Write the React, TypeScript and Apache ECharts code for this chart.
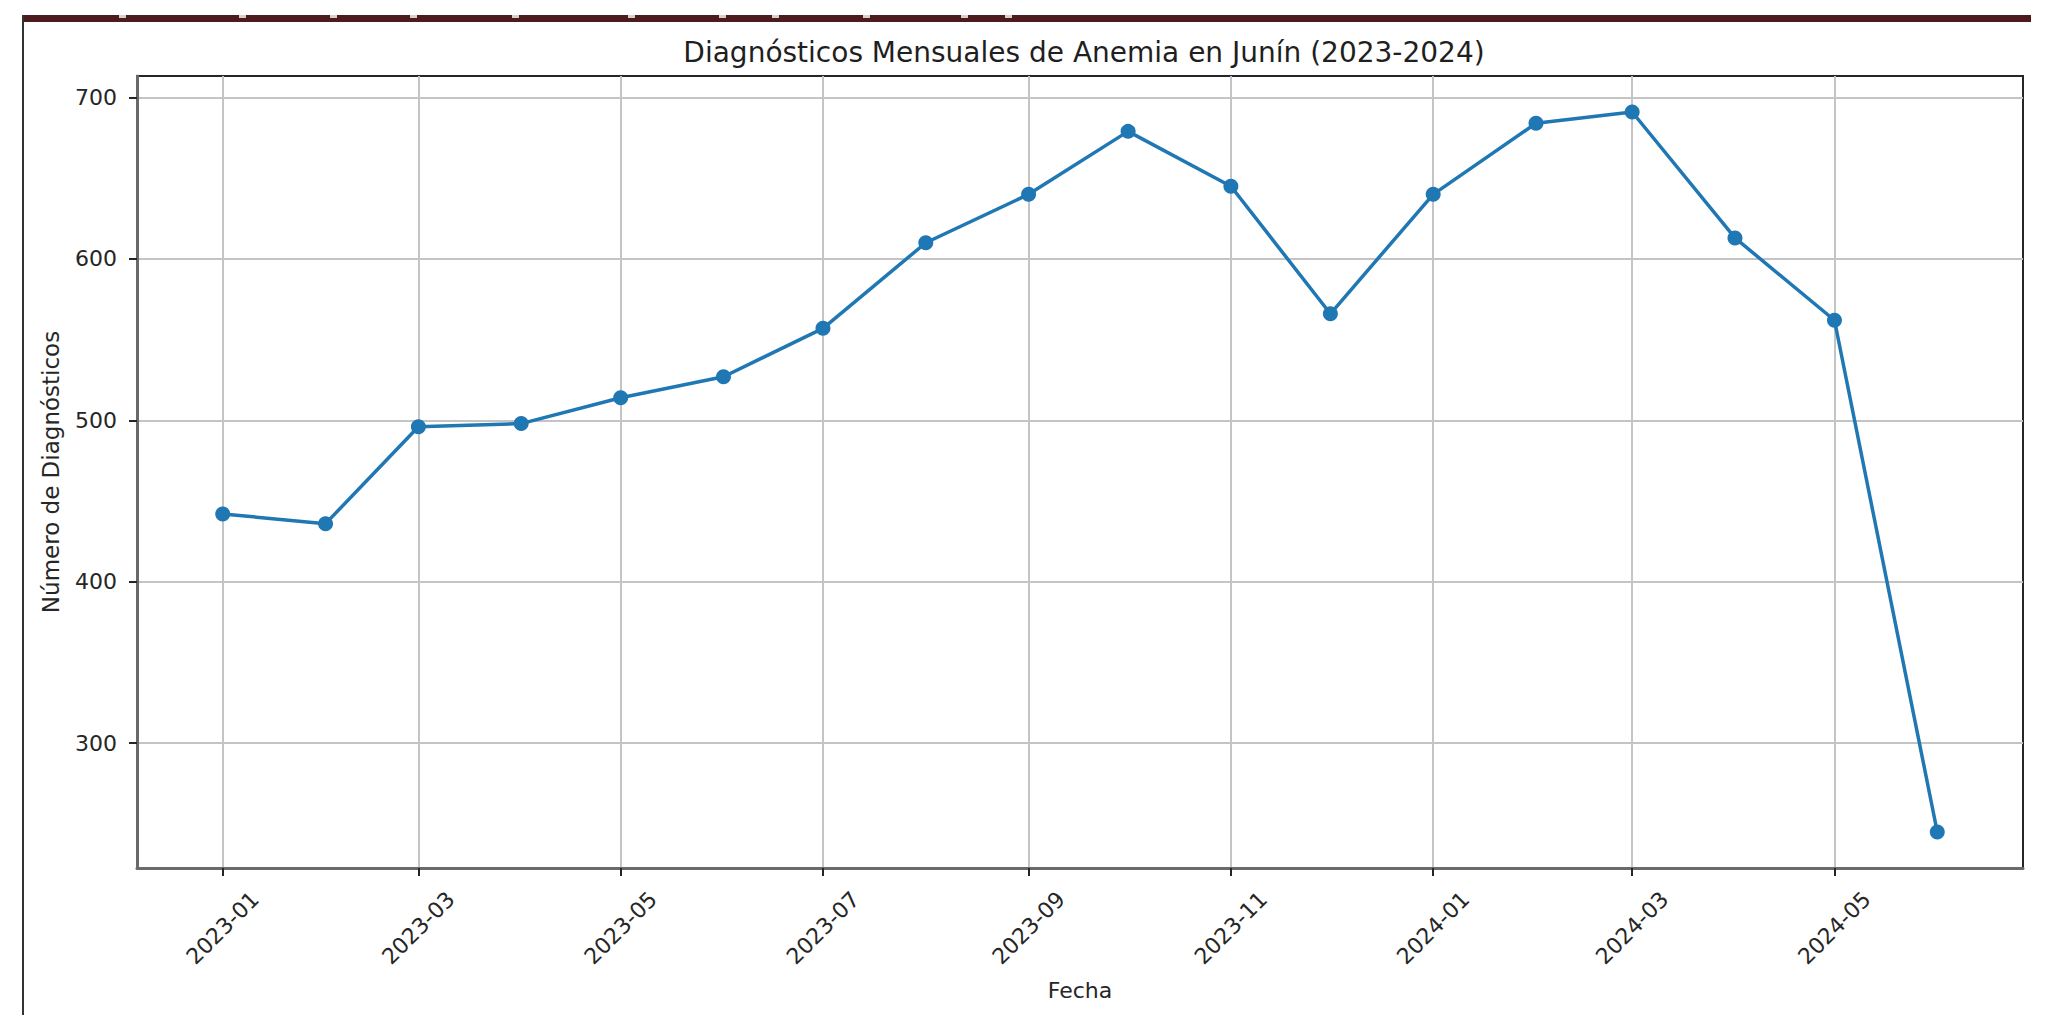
import React, { useEffect, useRef } from "react";
import * as echarts from "echarts";

const months = [
  "2023-01", "2023-02", "2023-03", "2023-04", "2023-05", "2023-06",
  "2023-07", "2023-08", "2023-09", "2023-10", "2023-11", "2023-12",
  "2024-01", "2024-02", "2024-03", "2024-04", "2024-05", "2024-06",
];
const diagnoses = [442, 436, 496, 498, 514, 527, 557, 610, 640, 679, 645, 566, 640, 684, 691, 613, 562, 245];
const xTickLabels = ["2023-01", "2023-03", "2023-05", "2023-07", "2023-09", "2023-11", "2024-01", "2024-03", "2024-05"];
const yTickLabels = [300, 400, 500, 600, 700];
const titleText = "Diagnósticos Mensuales de Anemia en Junín (2023-2024)";
const xAxisName = "Fecha";
const yAxisName = "Número de Diagnósticos";

const toTime = (s: string) => {
  const [y, m] = s.split("-").map(Number);
  return Date.UTC(y, m - 1, 1);
};
const fmtMonth = (t: number) => {
  const d = new Date(Math.round(t));
  return d.getUTCFullYear() + "-" + String(d.getUTCMonth() + 1).padStart(2, "0");
};

export default function App() {
  const ref = useRef<HTMLDivElement>(null);
  useEffect(() => {
    if (!ref.current) return;
    const chart = echarts.init(ref.current, undefined, { renderer: "svg" });
    const xs = months.map(toTime);
    const xRange = xs[xs.length - 1] - xs[0];
    const xMin = xs[0] - 0.05 * xRange;
    const xMax = xs[xs.length - 1] + 0.05 * xRange;
    const yLo = Math.min(...diagnoses);
    const yHi = Math.max(...diagnoses);
    const yR = yHi - yLo;
    const yMin = yLo - 0.05 * yR;
    const yMax = yHi + 0.05 * yR;
    const xTicks = xTickLabels.map(toTime);
    const font = "DejaVu Sans";
    const textColor = "#262626";
    const markXs = [119, 239, 330, 410, 512, 628, 719, 772, 863, 961, 1005];

    chart.setOption({
      animation: false,
      backgroundColor: "#ffffff",
      textStyle: { fontFamily: font },
      title: {
        text: titleText,
        left: 1079,
        top: 33,
        textAlign: "center",
        textStyle: { fontSize: 28, fontWeight: "normal", color: "#1f1f1f", fontFamily: font },
      },
      grid: {
        left: 137,
        top: 76,
        width: 1886,
        height: 792,
        show: true,
        borderColor: "#262626",
        borderWidth: 2,
        backgroundColor: "transparent",
      },
      xAxis: {
        type: "value",
        min: xMin,
        max: xMax,
        name: xAxisName,
        nameLocation: "middle",
        nameGap: 111,
        nameTextStyle: { fontSize: 22, color: textColor, fontFamily: font },
        axisLine: { show: true, onZero: false, lineStyle: { color: "#6a6a6a", width: 3 } },
        axisTick: { show: true, customValues: xTicks, length: 8, lineStyle: { color: textColor, width: 2 } },
        axisLabel: {
          customValues: xTicks,
          formatter: (v: number) => fmtMonth(v),
          rotate: 45,
          align: "center",
          verticalAlign: "middle",
          margin: 60,
          fontSize: 22,
          color: textColor,
          fontFamily: font,
        },
        splitLine: { show: true, lineStyle: { color: "#c4c4c4", width: 2 } },
      },
      yAxis: {
        type: "value",
        min: yMin,
        max: yMax,
        name: yAxisName,
        nameLocation: "middle",
        nameRotate: 90,
        nameGap: 75,
        nameTextStyle: { fontSize: 23, color: textColor, fontFamily: font },
        axisLine: { show: true, onZero: false, lineStyle: { color: "#6a6a6a", width: 3 } },
        axisTick: { show: true, customValues: yTickLabels, length: 8, lineStyle: { color: textColor, width: 2 } },
        axisLabel: {
          customValues: yTickLabels,
          margin: 20,
          fontSize: 22,
          color: textColor,
          fontFamily: font,
        },
        splitLine: { show: true, lineStyle: { color: "#c4c4c4", width: 2 } },
      },
      graphic: [
        { type: "rect", shape: { x: 22, y: 15, width: 2009, height: 7 }, style: { fill: "#4d1b1b" }, z: 10 },
        { type: "rect", shape: { x: 22, y: 15, width: 2, height: 1000 }, style: { fill: "#333333" }, z: 10 },
        ...markXs.map((mx) => ({
          type: "rect",
          shape: { x: mx, y: 15, width: 7, height: 3 },
          style: { fill: "#d9cfcf" },
          z: 11,
        })),
      ],
      series: [
        {
          type: "line",
          data: xs.map((x, i) => [x, diagnoses[i]]),
          symbol: "circle",
          symbolSize: 15,
          itemStyle: { color: "#1f77b4" },
          lineStyle: { color: "#1f77b4", width: 3.5 },
          z: 3,
        },
      ],
    });
    return () => chart.dispose();
  }, []);
  return (
    <div
      ref={ref}
      style={{ position: "fixed", left: 0, top: 0, width: 2052, height: 1028, background: "#fff" }}
    />
  );
}
